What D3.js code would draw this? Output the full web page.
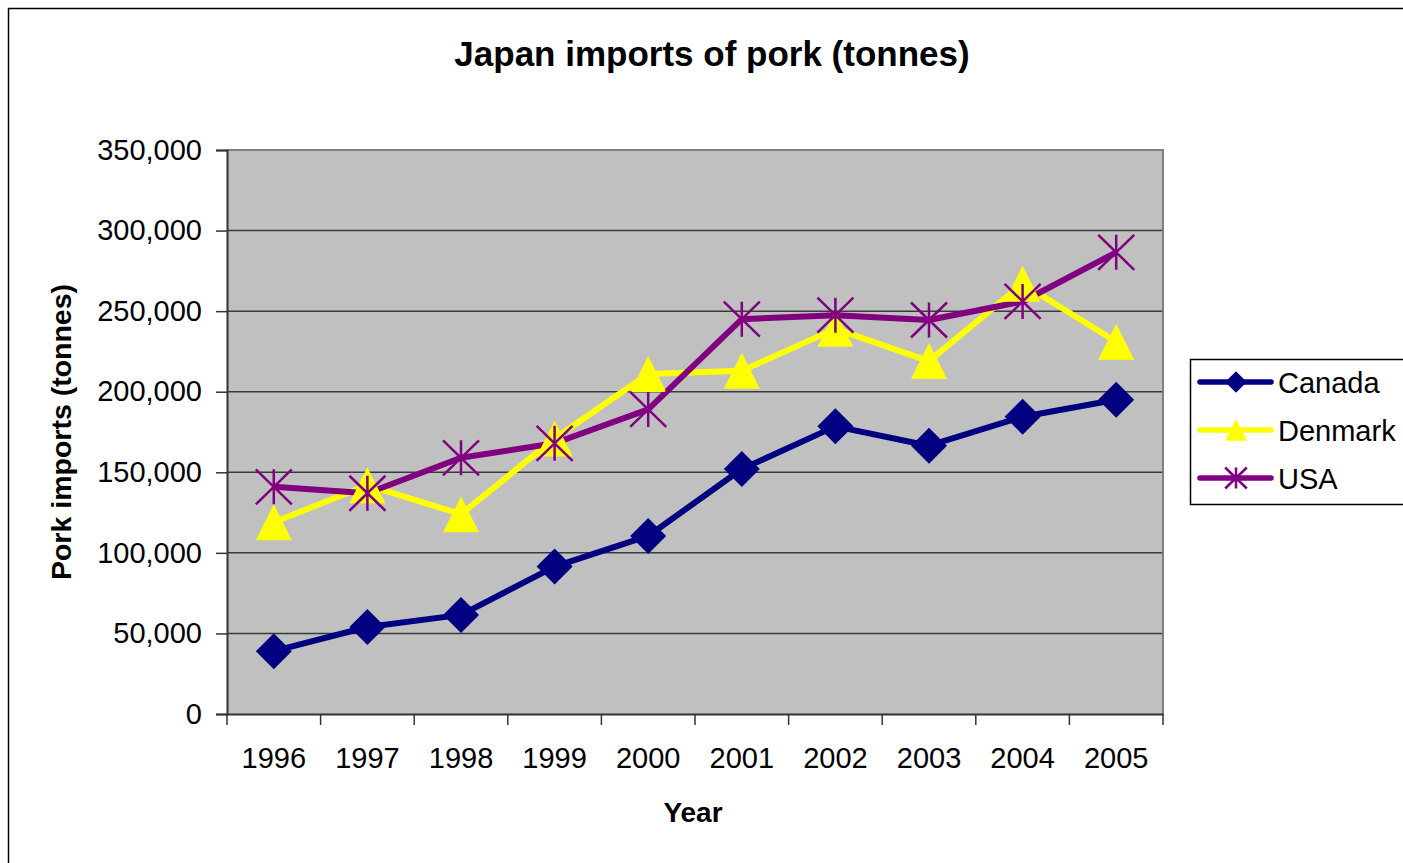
<!DOCTYPE html>
<html><head><meta charset="utf-8">
<script src="https://cdn.jsdelivr.net/npm/d3@7"></script>
<style>
body{margin:0;background:#fff;overflow:hidden;}
svg{display:block;font-family:"Liberation Sans",Arial,sans-serif;}
</style>
</head><body><svg id="c" width="1403" height="863"></svg>
<script>
const years = ["1996","1997","1998","1999","2000","2001","2002","2003","2004","2005"];
const canada  = [39000, 54000, 61500, 91500, 110500, 152000, 178500, 166500, 184500, 195000];
const denmark = [119000, 142000, 124000, 171000, 211000, 213000, 239000, 219000, 267000, 231000];
const usa     = [141000, 137000, 159000, 168000, 189000, 245000, 247500, 244500, 256000, 286500];
const yTicks  = [0, 50000, 100000, 150000, 200000, 250000, 300000, 350000];
const seriesNames  = ["Canada", "Denmark", "USA"];
const seriesValues = [canada, denmark, usa];
const seriesColors = ["#000080", "#FFFF00", "#800080"];
const seriesMarkers = ["diamond", "triangle", "star"];
const titleText = "Japan imports of pork (tonnes)";
const xTitle = "Year";
const yTitle = "Pork imports (tonnes)";

const svg = d3.select("#c");
const L = 227, R = 1163, T = 150, B = 714;

// outer chart border
svg.append("rect").attr("x", 8.5).attr("y", 8.5).attr("width", 1500).attr("height", 1000)
  .attr("fill", "#fff").attr("stroke", "#000").attr("stroke-width", 1.5);

const x = d3.scaleBand().domain(years).range([L, R]).padding(0);
const y = d3.scaleLinear().domain([0, 350000]).range([B, T]);
const cx = d => x(d) + x.bandwidth() / 2;

// plot background
svg.append("rect").attr("x", L).attr("y", T).attr("width", R - L).attr("height", B - T)
  .attr("fill", "#C0C0C0");

// gridlines
svg.append("g").selectAll("line").data(yTicks.filter(v => v > 0 && v < 350000)).join("line")
  .attr("x1", L).attr("x2", R).attr("y1", d => y(d)).attr("y2", d => y(d))
  .attr("stroke", "#3a3a3a").attr("stroke-width", 1.5);

// plot frame top/right
svg.append("path").attr("d", `M${L},${T}H${R}V${B}`).attr("fill", "none")
  .attr("stroke", "#808080").attr("stroke-width", 2);

// y axis
const yAxis = d3.axisLeft(y).tickValues(yTicks).tickFormat(d3.format(",")).tickSize(11).tickPadding(14);
const gy = svg.append("g").attr("transform", `translate(${L},0)`).call(yAxis);
gy.select(".domain").attr("stroke", "#333").attr("stroke-width", 2);
gy.selectAll(".tick line").attr("stroke", "#333").attr("stroke-width", 1.5);
gy.selectAll("text").attr("font-size", 29).attr("fill", "#000")
  .attr("font-family", '"Liberation Sans",Arial,sans-serif');

// x axis
const xAxis = d3.axisBottom(x).tickSize(0).tickPadding(33);
const gx = svg.append("g").attr("transform", `translate(0,${B})`).call(xAxis);
gx.select(".domain").attr("stroke", "#333").attr("stroke-width", 2);
gx.selectAll("text").attr("font-size", 29).attr("fill", "#000")
  .attr("font-family", '"Liberation Sans",Arial,sans-serif');
// category boundary ticks
const bounds = years.map(d => x(d)).concat([R]);
svg.append("g").selectAll("line").data(bounds).join("line")
  .attr("x1", d => d).attr("x2", d => d).attr("y1", B).attr("y2", B + 11)
  .attr("stroke", "#333").attr("stroke-width", 1.5);

// titles
svg.append("text").attr("x", 712).attr("y", 66).attr("text-anchor", "middle")
  .attr("font-size", 35).attr("font-weight", "bold").text(titleText);
svg.append("text").attr("x", 693).attr("y", 822).attr("text-anchor", "middle")
  .attr("font-size", 28).attr("font-weight", "bold").text(xTitle);
svg.append("text").attr("transform", "translate(71,432) rotate(-90)").attr("text-anchor", "middle")
  .attr("font-size", 28.5).attr("font-weight", "bold").text(yTitle);

// marker drawing
function drawMarker(g, type, color, s) {
  if (type === "diamond") {
    g.append("path").attr("d", `M0,${-18*s}L${18*s},0L0,${18*s}L${-18*s},0Z`).attr("fill", color);
  } else if (type === "triangle") {
    g.append("path").attr("d", `M0,${-18*s}L${18*s},${18*s}L${-18*s},${18*s}Z`).attr("fill", color);
  } else {
    g.append("path").attr("d",
      `M0,${-17.5*s}V${17.5*s}M${-18*s},${-17.5*s}L${18*s},${17.5*s}M${18*s},${-17.5*s}L${-18*s},${17.5*s}`)
      .attr("stroke", color).attr("stroke-width", 2.5).attr("fill", "none");
  }
}

const line = d3.line().x((d, i) => cx(years[i])).y(d => y(d));
// lines first
seriesValues.forEach((vals, k) => {
  svg.append("path").datum(vals).attr("d", line).attr("fill", "none")
    .attr("stroke", seriesColors[k]).attr("stroke-width", 6).attr("stroke-linejoin", "round");
});
// then markers
seriesValues.forEach((vals, k) => {
  vals.forEach((v, i) => {
    const g = svg.append("g").attr("transform", `translate(${cx(years[i])},${y(v)})`);
    drawMarker(g, seriesMarkers[k], seriesColors[k], 1);
  });
});

// legend
svg.append("rect").attr("x", 1190.5).attr("y", 359.5).attr("width", 240).attr("height", 145)
  .attr("fill", "#fff").attr("stroke", "#000").attr("stroke-width", 1.5);
const legY = [382, 430, 478];
seriesNames.forEach((name, k) => {
  svg.append("line").attr("x1", 1200).attr("x2", 1271).attr("y1", legY[k]).attr("y2", legY[k])
    .attr("stroke", seriesColors[k]).attr("stroke-width", 5.5).attr("stroke-linecap", "round");
  const g = svg.append("g").attr("transform", `translate(1236,${legY[k]})`);
  drawMarker(g, seriesMarkers[k], seriesColors[k], 0.6);
  svg.append("text").attr("x", 1278).attr("y", legY[k] + 10.5).attr("font-size", 29).text(name);
});
</script>
</body></html>
